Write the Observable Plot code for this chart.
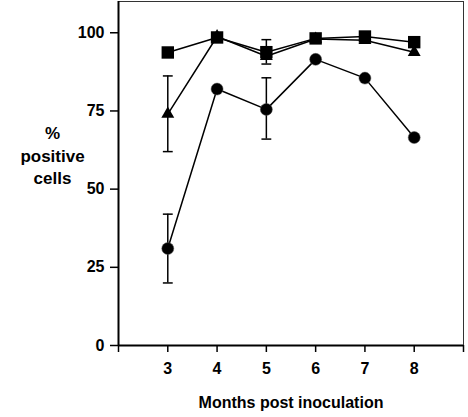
<!DOCTYPE html>
<html>
<head>
<meta charset="utf-8">
<script src="https://cdn.jsdelivr.net/npm/d3@7"></script>
<script src="https://cdn.jsdelivr.net/npm/@observablehq/plot@0.6"></script>
<style>
body { margin: 0; background: #fff; }
</style>
</head>
<body>
<div id="chart"></div>
<script>
const months = [3, 4, 5, 6, 7, 8];
const circleVals = [31, 82, 75.5, 91.5, 85.5, 66.5];
const squareVals = [93.7, 98.5, 93.8, 98.2, 98.8, 97];
const triangleVals = [74, 98.8, 92.5, 98, 97.6, 93.8];
// error bars: [month, low, high]
const circleErr = [[3, 20, 42], [5, 66, 85.6]];
const triangleErr = [[3, 62, 86.2]];
const squareErr = [[5, 90, 97.8]];
const xTicks = [2, 3, 4, 5, 6, 7, 8, 9];
const yTicks = [0, 25, 50, 75, 100];

const mk = (vals, name) => months.map((m, i) => ({x: m, y: vals[i], s: name}));
const circles = mk(circleVals, "circle");
const squares = mk(squareVals, "square");
const triangles = mk(triangleVals, "triangle");
const errs = [...circleErr, ...triangleErr, ...squareErr].map(([x, lo, hi]) => ({x, lo, hi}));
const capW = 0.1;

const chart = Plot.plot({
  width: 468,
  height: 417,
  marginLeft: 118,
  marginRight: 5,
  marginTop: 1,
  marginBottom: 72,
  style: {fontFamily: "Liberation Sans, Arial, sans-serif", fontWeight: "bold", fontSize: "16px", color: "#000", background: "#fff"},
  x: {domain: [2, 9]},
  y: {domain: [0, 110]},
  marks: [
    Plot.frame({stroke: "#333", strokeWidth: 1}),
    Plot.axisY({ticks: yTicks, tickSize: 8, tickPadding: 6, tickFormat: d => d, label: null, strokeWidth: 1.5, fontSize: 16}),
    Plot.axisX({ticks: xTicks, tickSize: 7, tickPadding: 10, tickFormat: d => (d >= 3 && d <= 8 ? d : ""), strokeWidth: 1.5, fontSize: 16,
      label: "Months post inoculation", labelAnchor: "center", labelArrow: "none", labelOffset: 62}),
    Plot.ruleX([2], {stroke: "#000", strokeWidth: 2}),
    Plot.ruleY([0], {stroke: "#000", strokeWidth: 2}),
    // error bars
    Plot.ruleX(errs, {x: "x", y1: "lo", y2: "hi", stroke: "#000", strokeWidth: 1.5}),
    Plot.link(errs, {x1: d => d.x - capW, x2: d => d.x + capW, y1: "hi", y2: "hi", stroke: "#000", strokeWidth: 1.5}),
    Plot.link(errs, {x1: d => d.x - capW, x2: d => d.x + capW, y1: "lo", y2: "lo", stroke: "#000", strokeWidth: 1.5}),
    // lines
    Plot.line(triangles, {x: "x", y: "y", stroke: "#000", strokeWidth: 1.5}),
    Plot.line(squares, {x: "x", y: "y", stroke: "#000", strokeWidth: 1.5}),
    Plot.line(circles, {x: "x", y: "y", stroke: "#000", strokeWidth: 1.5}),
    // markers
    Plot.dot(circles, {x: "x", y: "y", r: 6, fill: "#000", stroke: "#555", strokeWidth: 0.5}),
    Plot.dot(triangles, {x: "x", y: "y", symbol: "triangle", r: 4.8, fill: "#000"}),
    Plot.dot(squares, {x: "x", y: "y", symbol: "square", r: 7, fill: "#000"}),
    // y label
    Plot.text(["%\npositive\ncells"], {frameAnchor: "left", dx: -66, dy: -19, textAnchor: "middle", lineHeight: 1.3, fontSize: 17, fontWeight: "bold", fill: "#000"})
  ]
});
document.getElementById("chart").appendChild(chart);
</script>
</body>
</html>
